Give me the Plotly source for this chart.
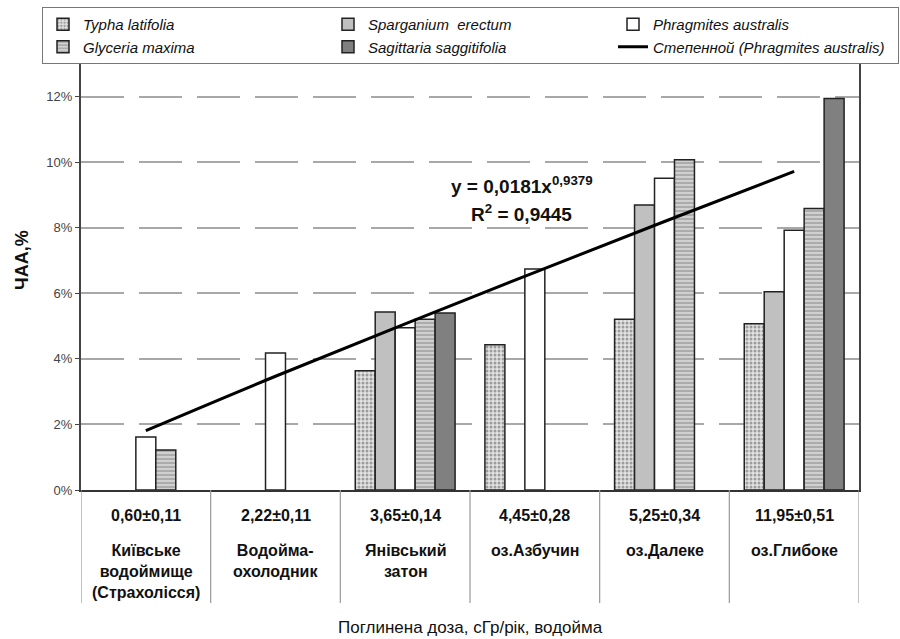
import plotly.graph_objects as go

# ---- data ----
categories = ["Київське водоймище (Страхолісся)", "Водойма-охолодник", "Янівський затон",
              "оз.Азбучин", "оз.Далеке", "оз.Глибоке"]
doses = ["0,60±0,11", "2,22±0,11", "3,65±0,14", "4,45±0,28", "5,25±0,34", "11,95±0,51"]
name_labels = ["Київське<br>водоймище<br>(Страхолісся)", "Водойма-<br>охолодник", "Янівський<br>затон",
               "оз.Азбучин", "оз.Далеке", "оз.Глибоке"]

typha = [None, None, 3.64, 4.43, 5.21, 5.07]
sparganium = [None, None, 5.43, None, 8.69, 6.05]
phragmites = [1.62, 4.18, 4.95, 6.74, 9.51, 7.92]
glyceria = [1.22, None, 5.21, None, 10.07, 8.59]
sagittaria = [None, None, 5.40, None, None, 11.94]
trend = [1.81, 3.47, 5.07, 6.64, 8.19, 9.72]

y_ticks = [0, 2, 4, 6, 8, 10, 12]
y_tick_labels = ["0%", "2%", "4%", "6%", "8%", "10%", "12%"]

FONT = "Arial, Liberation Sans, sans-serif"
OUT = dict(color="#222222", width=1.5)

fig = go.Figure()
fig.add_trace(go.Bar(name="Typha latifolia", x=categories, y=typha,
                     marker=dict(color="#d8d8d8", line=OUT,
                                 pattern=dict(shape=".", fgcolor="#555555", bgcolor="#e2e2e2",
                                              size=4, solidity=0.45))))
fig.add_trace(go.Bar(name="Sparganium  erectum", x=categories, y=sparganium,
                     marker=dict(color="#c0c0c0", line=OUT)))
fig.add_trace(go.Bar(name="Phragmites australis", x=categories, y=phragmites,
                     marker=dict(color="#ffffff", line=OUT)))
fig.add_trace(go.Bar(name="Glyceria maxima", x=categories, y=glyceria,
                     marker=dict(color="#cccccc", line=OUT,
                                 pattern=dict(shape="-", fgcolor="#555555", bgcolor="#d0d0d0",
                                              size=4, solidity=0.3))))
fig.add_trace(go.Bar(name="Sagittaria saggitifolia", x=categories, y=sagittaria,
                     marker=dict(color="#808080", line=OUT)))
fig.add_trace(go.Scatter(name="Степенной (Phragmites australis)", x=categories, y=trend,
                         mode="lines", line=dict(color="#000000", width=3, shape="spline")))

plot_top, plot_bottom = 53, 490
ph = plot_bottom - plot_top

annotations = []
for c, d, n in zip(categories, doses, name_labels):
    annotations.append(dict(x=c, xref="x", y=-(515 - plot_bottom) / ph, yref="paper",
                            text=d, showarrow=False, yanchor="middle",
                            font=dict(family=FONT, size=16, color="#111111", weight="bold")))
    annotations.append(dict(x=c, xref="x", y=-(540 - plot_bottom) / ph, yref="paper",
                            text=n, showarrow=False, yanchor="top",
                            font=dict(family=FONT, size=16, color="#111111", weight="bold")))

annotations.append(dict(x=0.5, xref="paper", y=-(627 - plot_bottom) / ph, yref="paper",
                        text="Поглинена доза, сГр/рік, водойма", showarrow=False,
                        yanchor="middle", font=dict(family=FONT, size=17, color="#111111")))
annotations.append(dict(x=-(81 - 22) / 778, xref="paper", y=(plot_bottom - 260) / ph, yref="paper",
                        text="ЧАА,%", textangle=-90, showarrow=False,
                        xanchor="center", yanchor="middle",
                        font=dict(family=FONT, size=18, color="#111111", weight="bold")))
annotations.append(dict(x=2.9, xref="x", y=(plot_bottom - 185) / ph, yref="paper",
                        text="y = 0,0181x<sup>0,9379</sup>", showarrow=False, yanchor="middle",
                        font=dict(family=FONT, size=19, color="#111111", weight="bold")))
annotations.append(dict(x=2.9, xref="x", y=(plot_bottom - 213) / ph, yref="paper",
                        text="R<sup>2</sup> = 0,9445", showarrow=False, yanchor="middle",
                        font=dict(family=FONT, size=19, color="#111111", weight="bold")))

shapes = []
for i in range(len(categories) + 1):
    shapes.append(dict(type="line", xref="x", yref="paper", x0=i - 0.5, x1=i - 0.5,
                       y0=0, y1=-(603 - plot_bottom) / ph,
                       line=dict(color="#999999", width=1.2)))

fig.update_layout(
    width=900, height=639,
    margin=dict(l=81, r=41, t=plot_top, b=639 - plot_bottom, autoexpand=False),
    paper_bgcolor="white", plot_bgcolor="white",
    barmode="group", bargap=0.23, bargroupgap=0,
    font=dict(family=FONT, color="#222222"),
    showlegend=True,
    legend=dict(orientation="h", x=(42 - 81) / 778, xanchor="left",
                y=1 + (plot_top - 7) / ph, yanchor="top",
                entrywidth=240, entrywidthmode="pixels",
                bgcolor="white", bordercolor="#777777", borderwidth=1,
                font=dict(family=FONT, size=15, color="#111111", style="italic"),
                traceorder="normal"),
    xaxis=dict(type="category", range=[-0.5, 5.5], showticklabels=False, ticks="",
               showline=True, linecolor="#333333", linewidth=2, showgrid=False),
    yaxis=dict(range=[0, 13.33], tickmode="array", tickvals=y_ticks, ticktext=y_tick_labels,
               ticks="outside", ticklen=4, tickcolor="#444444", showline=True,
               linecolor="#444444", linewidth=2, mirror=True, showgrid=True,
               gridcolor="#a8a8a8", gridwidth=1.5, griddash="43px,15px", zeroline=False,
               tickfont=dict(family=FONT, size=13, color="#444444")),
    annotations=annotations, shapes=shapes,
)

fig.write_html("out.html", config={"displayModeBar": False},
               post_script="document.body.style.margin='0';document.body.style.overflow='hidden';")
